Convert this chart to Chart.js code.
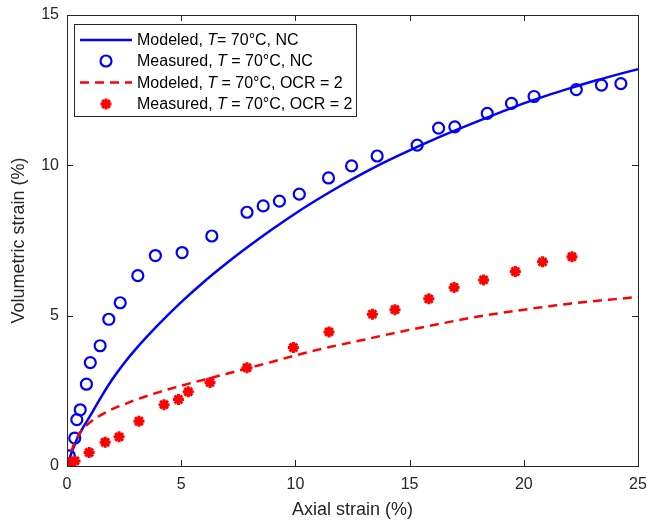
<!DOCTYPE html>
<html>
<head>
<meta charset="utf-8">
<script src="https://cdn.jsdelivr.net/npm/chart.js@4.4.1/dist/chart.umd.min.js"></script>
<style>
  html, body { margin: 0; padding: 0; background: #fff; }
  #wrap { width: 647px; height: 523px; position: relative; }
</style>
</head>
<body>
<div id="wrap"><canvas id="chart"></canvas></div>
<script>
// Volumetric vs axial strain, T = 70°C

// Model curves (same axial strain grid)
const modelX = [0, 0.25, 0.5, 1, 1.5, 2, 2.5, 3, 4, 5, 6, 7, 8, 9, 10, 11, 12, 13, 14, 15, 16, 17, 18, 19, 20, 21, 22, 23, 24, 25];
const modelNC = [0, 0.55, 1.0, 1.65, 2.3, 2.9, 3.42, 3.88, 4.7, 5.45, 6.13, 6.75, 7.33, 7.88, 8.4, 8.88, 9.33, 9.75, 10.14, 10.5, 10.84, 11.16, 11.47, 11.77, 12.06, 12.32, 12.56, 12.79, 13.0, 13.2];
const modelOCR = [0, 0.62, 1.02, 1.45, 1.7, 1.9, 2.05, 2.2, 2.45, 2.67, 2.87, 3.07, 3.27, 3.47, 3.68, 3.87, 4.04, 4.2, 4.37, 4.53, 4.68, 4.83, 4.97, 5.09, 5.2, 5.3, 5.4, 5.48, 5.55, 5.62];

// Measured, NC
const measNCx = [0, 0.1, 0.34, 0.43, 0.58, 0.85, 1.02, 1.45, 1.83, 2.33, 3.1, 3.87, 5.04, 6.34, 7.88, 8.59, 9.3, 10.17, 11.45, 12.46, 13.58, 15.33, 16.27, 16.98, 18.4, 19.46, 20.45, 22.3, 23.4, 24.25];
const measNCy = [0, 0.34, 0.93, 1.54, 1.87, 2.72, 3.44, 4.0, 4.88, 5.43, 6.33, 7.0, 7.1, 7.65, 8.44, 8.65, 8.81, 9.04, 9.58, 9.98, 10.31, 10.67, 11.24, 11.28, 11.73, 12.06, 12.29, 12.52, 12.67, 12.72];

// Measured, OCR = 2
const measOCRx = [0, 0.12, 0.35, 0.97, 1.67, 2.28, 3.15, 4.25, 4.88, 5.31, 6.26, 7.88, 9.91, 11.47, 13.37, 14.36, 15.84, 16.95, 18.24, 19.63, 20.82, 22.11];
const measOCRy = [0, 0.1, 0.17, 0.45, 0.79, 0.97, 1.49, 2.04, 2.21, 2.47, 2.78, 3.27, 3.94, 4.46, 5.05, 5.2, 5.56, 5.94, 6.19, 6.47, 6.79, 6.96];

const xTicks = [0, 5, 10, 15, 20, 25];
const yTicks = [0, 5, 10, 15];

// legend entries: [before italic, italic, after]
const legendText = [
  ['Modeled, ', 'T', '= 70°C, NC'],
  ['Measured, ', 'T', ' = 70°C, NC'],
  ['Modeled, ', 'T', ' = 70°C, OCR = 2'],
  ['Measured, ', 'T', ' = 70°C, OCR = 2']
];

const AXIS_COLOR = '#262626';
const FONT = 'Arial, "Liberation Sans", sans-serif';

const toPoints = (xs, ys) => xs.map((x, i) => ({ x: x, y: ys[i] }));

// frame + inward ticks, matlab style
const framePlugin = {
  id: 'frame',
  afterDatasetsDraw(chart) {
    const { ctx, chartArea: a, scales } = chart;
    const len = 6;
    ctx.save();
    ctx.strokeStyle = AXIS_COLOR;
    ctx.lineWidth = 1;
    ctx.beginPath();
    xTicks.forEach(v => {
      const px = Math.round(scales.x.getPixelForValue(v)) + 0.5;
      ctx.moveTo(px, a.bottom); ctx.lineTo(px, a.bottom - len);
      ctx.moveTo(px, a.top); ctx.lineTo(px, a.top + len);
    });
    yTicks.forEach(v => {
      const py = Math.round(scales.y.getPixelForValue(v)) + 0.5;
      ctx.moveTo(a.left, py); ctx.lineTo(a.left + len, py);
      ctx.moveTo(a.right, py); ctx.lineTo(a.right - len, py);
    });
    ctx.stroke();
    ctx.strokeRect(Math.round(a.left) + 0.5, Math.round(a.top) + 0.5,
      Math.round(a.right - a.left), Math.round(a.bottom - a.top));
    ctx.restore();
  }
};

// legend with italic T
const legendPlugin = {
  id: 'mixedLegend',
  afterDraw(chart) {
    const ctx = chart.ctx;
    const box = { x: 74.5, y: 24.5, w: 282, h: 92 };
    const rowY = [40, 61, 82.5, 104];
    ctx.save();
    ctx.fillStyle = '#fff';
    ctx.fillRect(box.x, box.y, box.w, box.h);
    ctx.strokeStyle = AXIS_COLOR;
    ctx.lineWidth = 1;
    ctx.strokeRect(box.x, box.y, box.w, box.h);

    chart.data.datasets.forEach((ds, i) => {
      const y = rowY[i];
      ctx.save();
      if (ds.showLine) {
        ctx.strokeStyle = ds.borderColor;
        ctx.lineWidth = ds.borderWidth;
        ctx.setLineDash(ds.borderDash || []);
        ctx.beginPath();
        ctx.moveTo(80, y);
        ctx.lineTo(132, y);
        ctx.stroke();
      } else {
        ctx.strokeStyle = ds.pointBorderColor;
        ctx.fillStyle = ds.pointBackgroundColor;
        ctx.lineWidth = ds.pointBorderWidth;
        Chart.helpers.drawPoint(ctx, {
          pointStyle: ds.pointStyle,
          radius: ds.pointRadius,
          borderWidth: ds.pointBorderWidth,
          rotation: 0
        }, 106, y);
      }
      ctx.restore();

      // text
      const parts = legendText[i];
      let tx = 137;
      ctx.fillStyle = '#000';
      ctx.textBaseline = 'middle';
      ctx.textAlign = 'left';
      ctx.font = '16px ' + FONT;
      ctx.fillText(parts[0], tx, y + 1);
      tx += ctx.measureText(parts[0]).width;
      ctx.font = 'italic 16px ' + FONT;
      ctx.fillText(parts[1], tx, y + 1);
      tx += ctx.measureText(parts[1]).width;
      ctx.font = '16px ' + FONT;
      ctx.fillText(parts[2], tx, y + 1);
    });
    ctx.restore();
  }
};

const chart = new Chart(document.getElementById('chart'), {
  type: 'scatter',
  data: {
    datasets: [
      {
        label: 'Modeled NC',
        data: toPoints(modelX, modelNC),
        showLine: true,
        borderColor: '#0000ff',
        borderWidth: 2.5,
        pointRadius: 0,
        cubicInterpolationMode: 'monotone',
        order: 4
      },
      {
        label: 'Measured NC',
        data: toPoints(measNCx, measNCy),
        showLine: false,
        pointStyle: 'circle',
        pointRadius: 5.5,
        pointBorderWidth: 2.2,
        pointBorderColor: '#0000ff',
        pointBackgroundColor: 'rgba(0,0,0,0)',
        order: 3
      },
      {
        label: 'Modeled OCR',
        data: toPoints(modelX, modelOCR),
        showLine: true,
        borderColor: '#ff0000',
        borderWidth: 2.5,
        borderDash: [9, 6],
        pointRadius: 0,
        cubicInterpolationMode: 'monotone',
        order: 2
      },
      {
        label: 'Measured OCR',
        data: toPoints(measOCRx, measOCRy),
        showLine: false,
        pointStyle: 'star',
        pointRadius: 5.5,
        pointBorderWidth: 3,
        pointBorderColor: '#ff0000',
        pointBackgroundColor: '#ff0000',
        order: 1
      }
    ]
  },
  options: {
    responsive: true,
    maintainAspectRatio: false,
    animation: false,
    layout: { autoPadding: false, padding: { top: 15, right: 9, left: 0, bottom: 0 } },
    plugins: {
      legend: { display: false },
      tooltip: { enabled: false }
    },
    scales: {
      x: {
        type: 'linear',
        min: 0,
        max: 25,
        afterFit: (scale) => {
          scale.height = 57;
          scale.paddingLeft = 0;
          scale.paddingRight = 0;
        },
        afterBuildTicks: (scale) => { scale.ticks = xTicks.map(v => ({ value: v })); },
        grid: { display: false, drawTicks: false },
        border: { display: false },
        ticks: {
          padding: 9,
          color: AXIS_COLOR,
          font: { family: FONT, size: 16 },
          maxRotation: 0
        },
        title: {
          display: true,
          text: 'Axial strain (%)',
          color: AXIS_COLOR,
          font: { family: FONT, size: 18 },
          padding: { top: 0, bottom: 2 }
        }
      },
      y: {
        type: 'linear',
        min: 0,
        max: 15,
        afterFit: (scale) => {
          scale.width = 67;
          scale.paddingTop = 0;
          scale.paddingBottom = 0;
        },
        afterBuildTicks: (scale) => { scale.ticks = yTicks.map(v => ({ value: v })); },
        grid: { display: false, drawTicks: false },
        border: { display: false },
        ticks: {
          padding: 8,
          color: AXIS_COLOR,
          font: { family: FONT, size: 16 }
        },
        title: {
          display: true,
          text: 'Volumetric strain (%)',
          color: AXIS_COLOR,
          font: { family: FONT, size: 18 },
          padding: { top: 8, bottom: 0 }
        }
      }
    }
  },
  plugins: [framePlugin, legendPlugin]
});
</script>
</body>
</html>
